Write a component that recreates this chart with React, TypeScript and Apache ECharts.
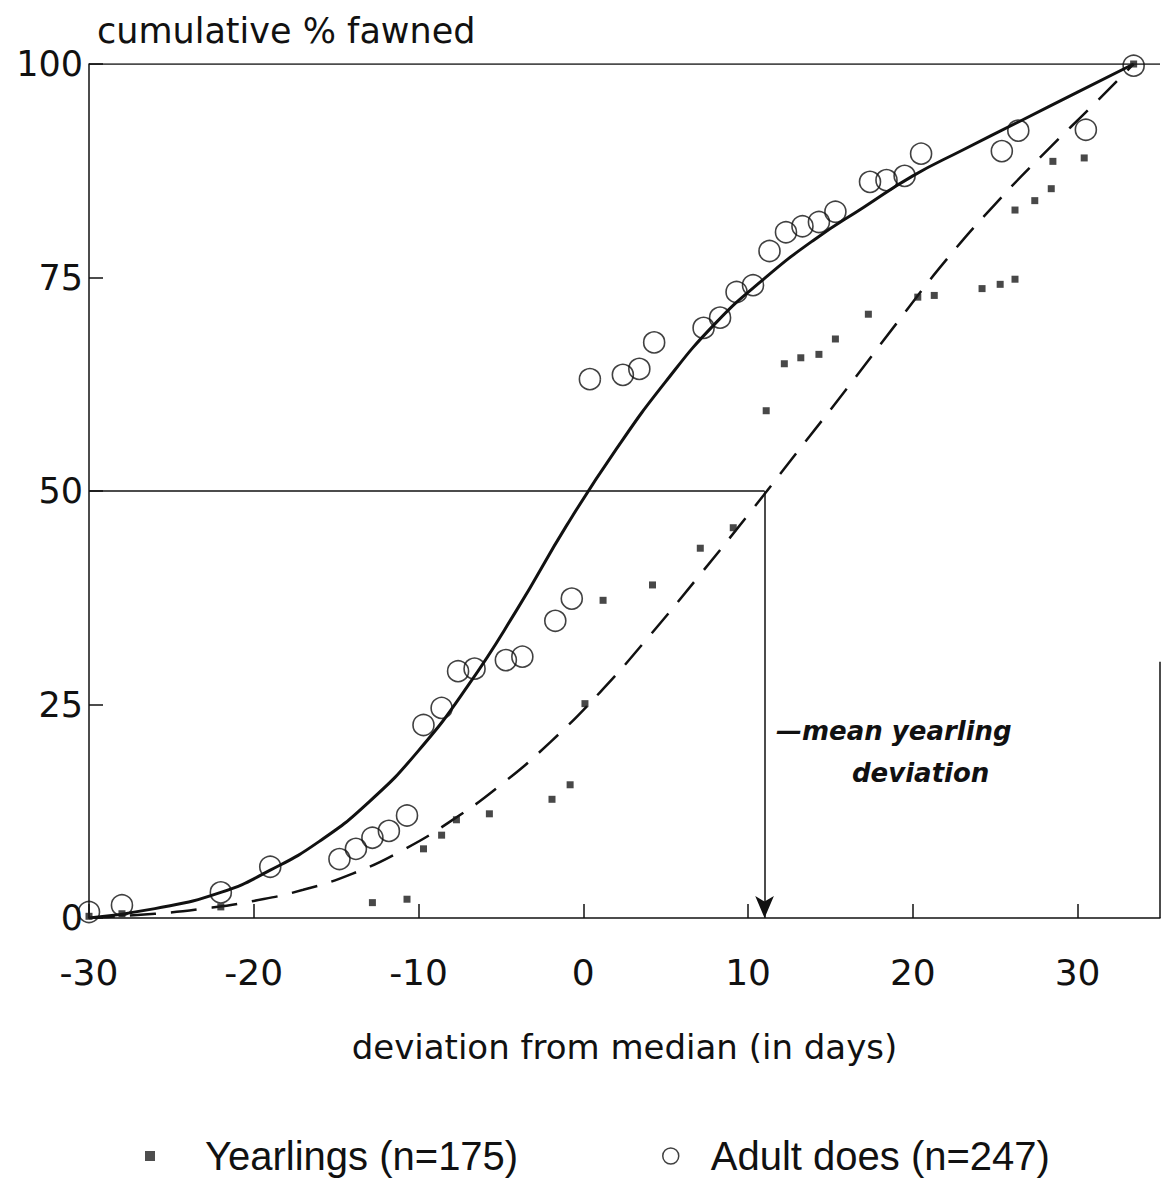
import React, { useEffect, useRef } from "react";
import * as echarts from "echarts";

// Adult does (open circles)
const adultX = [-30, -28, -22, -19, -14.8, -13.8, -12.8, -11.8, -10.7, -9.7, -8.6, -7.6, -6.6, -4.7, -3.7, -1.7, -0.7, 0.4, 2.4, 3.4, 4.3, 7.3, 8.3, 9.3, 10.3, 11.3, 12.3, 13.3, 14.3, 15.3, 17.4, 18.4, 19.5, 20.5, 25.4, 26.4, 30.5, 33.4];
const adultY = [0.7, 1.5, 3, 6, 6.9, 8.1, 9.4, 10.2, 12, 22.6, 24.6, 28.9, 29.2, 30.2, 30.6, 34.8, 37.4, 63.1, 63.6, 64.3, 67.4, 69.1, 70.3, 73.3, 74.1, 78.1, 80.3, 81, 81.5, 82.7, 86.2, 86.4, 86.9, 89.5, 89.8, 92.2, 92.3, 99.8];

// Yearlings (small filled squares)
const yearX = [-30, -28, -22, -12.8, -10.7, -9.7, -8.6, -7.7, -5.7, -1.9, -0.8, 0.1, 1.2, 4.2, 7.1, 9.1, 11.1, 12.2, 13.2, 14.3, 15.3, 17.3, 20.3, 21.3, 24.2, 25.3, 26.2, 26.2, 27.4, 28.4, 28.5, 30.4, 33.4];
const yearY = [0.2, 0.5, 1.3, 1.8, 2.2, 8.1, 9.7, 11.5, 12.2, 13.9, 15.6, 25.1, 37.2, 39, 43.3, 45.7, 59.4, 64.9, 65.6, 66, 67.8, 70.7, 72.7, 72.9, 73.7, 74.2, 74.8, 82.9, 84, 85.4, 88.6, 89, 100];

// Fitted curves
const adultCurveX = [-30, -26, -22, -19, -16, -13, -10, -7, -4, -1, 2, 5, 8, 11, 14, 17, 20, 23, 26.5, 30, 33.4];
const adultCurveY = [0, 1.1, 3.0, 5.6, 9.0, 13.6, 19.6, 27.2, 36.2, 46.0, 54.9, 62.8, 69.6, 74.9, 79.4, 83.2, 86.9, 89.9, 93.3, 96.7, 100];
const yearCurveX = [-30, -26, -23, -20, -17, -14, -11, -8, -5, -2, 1, 4, 7, 10, 13, 16, 19, 22, 25, 28, 31, 33.4];
const yearCurveY = [0, 0.5, 1.1, 2.0, 3.3, 5.2, 7.9, 11.4, 15.6, 20.6, 26.4, 33.0, 40.0, 47.2, 54.6, 62.0, 69.6, 77.0, 83.6, 89.6, 95.3, 100];

const meanYearlingDeviation = 11;
const medianLevel = 50;
const xMin = -30;
const xMax = 35;
const rightBorderTop = 30;

const zip = (xs: number[], ys: number[]) => xs.map((x, i) => [x, ys[i]]);

const INK = "#111";
const FONT = "DejaVu Sans";

export default function App() {
  const ref = useRef<HTMLDivElement>(null);
  useEffect(() => {
    const chart = echarts.init(ref.current!, null, { renderer: "svg" });
    chart.setOption({
      animation: false,
      backgroundColor: "#fff",
      grid: { left: 89, top: 64, width: 1071, height: 854 },
      xAxis: {
        type: "value",
        min: xMin,
        max: xMax,
        interval: 10,
        axisLine: { show: true, onZero: false, lineStyle: { color: INK, width: 1.5 } },
        axisTick: { show: true, inside: true, length: 14, lineStyle: { color: INK, width: 1.5 } },
        axisLabel: { margin: 36, fontSize: 36, color: INK, fontFamily: FONT, showMaxLabel: false },
        splitLine: { show: false },
        name: "deviation from median (in days)",
        nameLocation: "middle",
        nameGap: 112,
        nameTextStyle: { fontSize: 34, color: INK, fontFamily: FONT },
      },
      yAxis: {
        type: "value",
        min: 0,
        max: 100,
        interval: 25,
        axisLine: { show: true, onZero: false, lineStyle: { color: INK, width: 1.5 } },
        axisTick: { show: true, inside: true, length: 14, lineStyle: { color: INK, width: 1.5 } },
        axisLabel: { margin: 6, fontSize: 35, color: INK, fontFamily: FONT },
        splitLine: { show: false },
        name: "cumulative % fawned",
        nameLocation: "end",
        nameGap: 16,
        nameTextStyle: { fontSize: 35, color: INK, fontFamily: FONT, align: "left", padding: [0, 0, 0, 8] },
      },
      legend: [
        {
          left: 140,
          top: 1131,
          itemWidth: 100,
          itemHeight: 10,
          textStyle: { fontSize: 40, lineHeight: 40, color: INK, fontFamily: "Liberation Sans" },
          data: [
            {
              name: "Yearlings (n=175)",
              icon: "path://M0,0L10,0L10,10L0,10Z",
              itemStyle: { color: "#222", borderWidth: 0 },
            },
          ],
        },
        {
          left: 657,
          top: 1131,
          itemWidth: 70,
          itemHeight: 16,
          textStyle: { fontSize: 40, lineHeight: 40, color: INK, fontFamily: "Liberation Sans" },
          data: [
            {
              name: "Adult does (n=247)",
              icon: "path://M0,8A8,8,0,1,1,16,8A8,8,0,1,1,0,8Z",
              itemStyle: { color: "rgba(0,0,0,0)", borderColor: INK, borderWidth: 1.5 },
            },
          ],
        },
      ],
      graphic: [
        {
          type: "text",
          left: 776,
          top: 718,
          style: { text: "—mean yearling", font: `italic bold 26px ${FONT}`, fill: INK },
        },
        {
          type: "text",
          left: 852,
          top: 760,
          style: { text: "deviation", font: `italic bold 26px ${FONT}`, fill: INK },
        },
      ],
      series: [
        {
          type: "line",
          name: "top frame",
          data: [[xMin, 100], [xMax, 100]],
          showSymbol: false,
          silent: true,
          lineStyle: { color: INK, width: 1.5 },
        },
        {
          type: "line",
          name: "right frame",
          data: [[xMax, 0], [xMax, rightBorderTop]],
          showSymbol: false,
          silent: true,
          lineStyle: { color: INK, width: 1.5 },
        },
        {
          type: "line",
          name: "median line",
          data: [[xMin, medianLevel], [meanYearlingDeviation, medianLevel]],
          showSymbol: false,
          silent: true,
          lineStyle: { color: INK, width: 1.5 },
          markLine: {
            silent: true,
            symbol: ["none", "arrow"],
            symbolSize: [14, 22],
            label: { show: false },
            lineStyle: { color: INK, width: 1.5, type: "solid" },
            data: [[{ coord: [meanYearlingDeviation, medianLevel] }, { coord: [meanYearlingDeviation, 0] }]],
          },
        },
        {
          type: "line",
          name: "adult fit",
          data: zip(adultCurveX, adultCurveY),
          smooth: 0.5,
          showSymbol: false,
          silent: true,
          lineStyle: { color: INK, width: 3 },
        },
        {
          type: "line",
          name: "yearling fit",
          data: zip(yearCurveX, yearCurveY),
          smooth: 0.5,
          showSymbol: false,
          silent: true,
          lineStyle: { color: INK, width: 2.5, type: [26, 15] },
        },
        {
          type: "scatter",
          name: "Yearlings (n=175)",
          data: zip(yearX, yearY),
          symbol: "rect",
          symbolSize: 7,
          itemStyle: { color: "#1a1a1a" },
          z: 5,
        },
        {
          type: "scatter",
          name: "Adult does (n=247)",
          data: zip(adultX, adultY),
          symbol: "circle",
          symbolSize: 21,
          itemStyle: { color: "rgba(0,0,0,0)", borderColor: INK, borderWidth: 1.6 },
          z: 6,
        },
      ],
    });
    return () => chart.dispose();
  }, []);
  return (
    <div
      ref={ref}
      style={{ position: "absolute", left: 0, top: 0, width: 1164, height: 1181, background: "#fff" }}
    />
  );
}
